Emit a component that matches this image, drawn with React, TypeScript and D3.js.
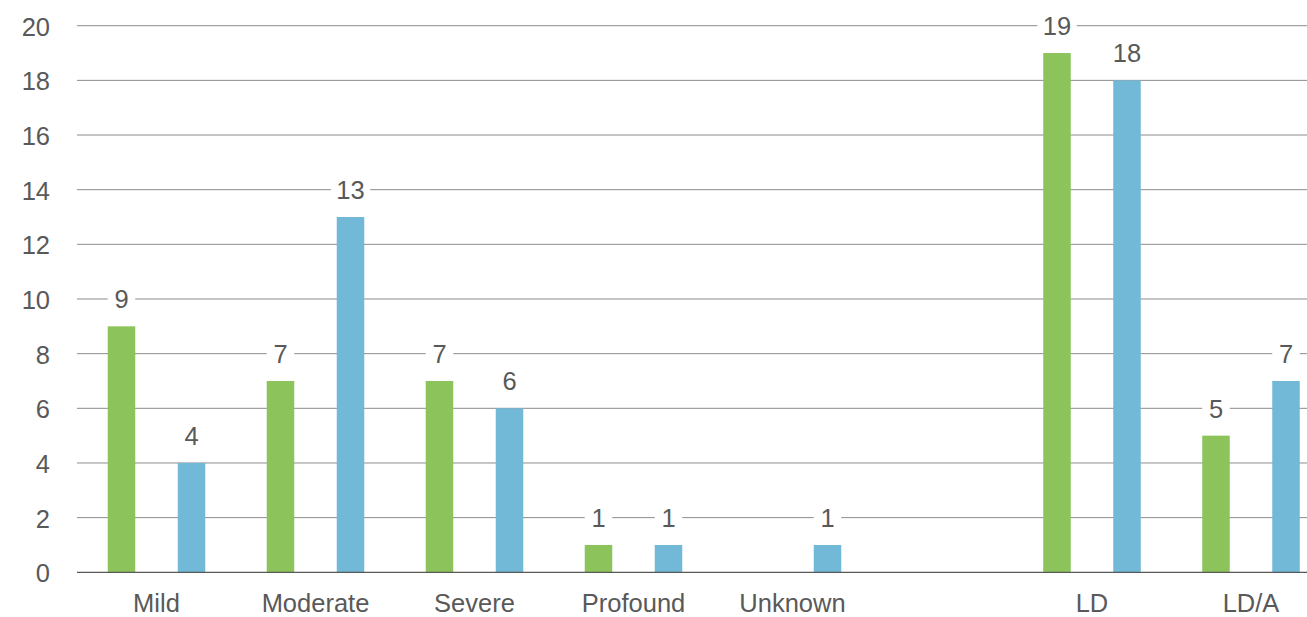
import React from "react";
import * as d3 from "d3";

// Groups shown in the left block of the chart, then the right block
const leftCategories = ["Mild", "Moderate", "Severe", "Profound", "Unknown"];
const rightCategories = ["LD", "LD/A"];

// Counts per group (null = no bar)
const greenValues: (number | null)[] = [9, 7, 7, 1, null, 19, 5];
const blueValues: (number | null)[] = [4, 13, 6, 1, 1, 18, 7];

const yTicks = [0, 2, 4, 6, 8, 10, 12, 14, 16, 18, 20];

const series = [
  { key: "green", values: greenValues, color: "#8cc35b" },
  { key: "blue", values: blueValues, color: "#72b8d7" },
];

const W = 1307;
const H = 617;
const FONT = "'Liberation Sans', Arial, sans-serif";
const FS = 25.5;
const TEXT = "#595959";

export default function App() {
  const plotLeft = 77;
  const y = d3.scaleLinear().domain([0, 20]).range([572.3, 25.7]);

  const xLeft = d3.scaleBand<string>().domain(leftCategories).range([plotLeft, 872]);
  const xRight = d3.scaleBand<string>().domain(rightCategories).range([1012.5, 1330.5]);
  const step = xLeft.bandwidth();

  const xSub = d3
    .scaleBand<string>()
    .domain(series.map((s) => s.key))
    .range([0, step])
    .paddingInner(0.607)
    .paddingOuter(0.439);
  const bw = xSub.bandwidth();

  const categories = [...leftCategories, ...rightCategories];
  const bandStart = (c: string) =>
    leftCategories.includes(c) ? (xLeft(c) as number) : (xRight(c) as number);

  const bars: { x: number; v: number; color: string; k: string }[] = [];
  categories.forEach((c, i) => {
    series.forEach((s) => {
      const v = s.values[i];
      if (v == null) return;
      bars.push({ x: bandStart(c) + (xSub(s.key) as number), v, color: s.color, k: `${c}-${s.key}` });
    });
  });

  return (
    <svg
      width={W}
      height={H}
      style={{ position: "absolute", left: 0, top: 0, background: "#fff" }}
      fontFamily={FONT}
    >
      {/* horizontal gridlines */}
      {yTicks.slice(1).map((t) => (
        <line key={t} x1={plotLeft} x2={W} y1={y(t)} y2={y(t)} stroke="#8c8c8c" strokeWidth={1} />
      ))}
      {/* y tick labels */}
      {yTicks.map((t) => (
        <text key={t} x={50} y={y(t) + 10} textAnchor="end" fontSize={FS} fill={TEXT}>
          {t}
        </text>
      ))}
      {/* bars */}
      {bars.map((b) => (
        <rect key={b.k} x={b.x} y={y(b.v)} width={bw} height={y(0) - y(b.v)} fill={b.color} />
      ))}
      {/* baseline */}
      <line x1={plotLeft} x2={W} y1={y(0)} y2={y(0)} stroke="#595959" strokeWidth={1.2} />
      {/* value labels with white backing */}
      {bars.map((b) => {
        const label = String(b.v);
        const tw = label.length * 0.556 * FS;
        const boxW = Math.max(bw, tw + 11);
        const cx = b.x + bw / 2;
        const base = y(b.v) - 18;
        return (
          <g key={b.k}>
            <rect x={cx - boxW / 2} y={base - 22} width={boxW} height={26} fill="#fff" />
            <text x={cx} y={base} textAnchor="middle" fontSize={FS} fill={TEXT}>
              {label}
            </text>
          </g>
        );
      })}
      {/* category labels */}
      {categories.map((c) => (
        <text key={c} x={bandStart(c) + step / 2} y={612} textAnchor="middle" fontSize={FS} fill={TEXT}>
          {c}
        </text>
      ))}
    </svg>
  );
}
